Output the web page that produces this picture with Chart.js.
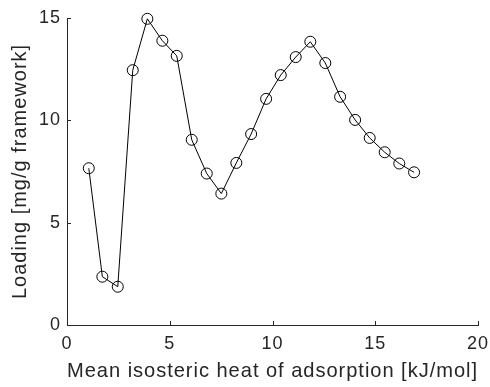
<!DOCTYPE html>
<html>
<head>
<meta charset="utf-8">
<script src="https://cdn.jsdelivr.net/npm/chart.js@4"></script>
<style>
html,body{margin:0;padding:0;background:#fff;}
canvas{display:block;}
</style>
</head>
<body>
<canvas id="c" width="490" height="387"></canvas>
<script>
const heatValues = [1.06, 1.72, 2.47, 3.20, 3.91, 4.64, 5.34, 6.07, 6.80, 7.51, 8.24, 8.96, 9.69, 10.40, 11.13, 11.84, 12.57, 13.29, 14.02, 14.73, 15.46, 16.17, 16.89];
const loadingValues = [7.66, 2.36, 1.87, 12.45, 14.96, 13.89, 13.15, 9.05, 7.40, 6.42, 7.92, 9.33, 11.05, 12.21, 13.09, 13.84, 12.80, 11.15, 10.02, 9.14, 8.44, 7.89, 7.46];
const xTicks = [0, 5, 10, 15, 20];
const yTicks = [0, 5, 10, 15];
const xTitle = 'Mean isosteric heat of adsorption [kJ/mol]';
const yTitle = 'Loading [mg/g framework]';

const points = heatValues.map((x, i) => ({x: x, y: loadingValues[i]}));
const axisColor = '#262626';
const fontFamily = '"Liberation Sans", Arial, sans-serif';

const spacing = {
  id: 'spacing',
  beforeLayout(chart) { chart.ctx.letterSpacing = '1px'; },
  beforeDraw(chart) { chart.ctx.letterSpacing = '1px'; }
};

const inwardTicks = {
  id: 'inwardTicks',
  afterDraw(chart) {
    const ctx = chart.ctx;
    const xs = chart.scales.x, ys = chart.scales.y;
    const area = chart.chartArea;
    ctx.save();
    ctx.strokeStyle = axisColor;
    ctx.lineWidth = 1;
    ctx.beginPath();
    xTicks.forEach(v => {
      const px = Math.round(xs.getPixelForValue(v)) + 0.5;
      ctx.moveTo(px, area.bottom);
      ctx.lineTo(px, area.bottom - 4);
    });
    yTicks.forEach(v => {
      const py = Math.round(ys.getPixelForValue(v)) + 0.5;
      ctx.moveTo(area.left, py);
      ctx.lineTo(area.left + 4, py);
    });
    ctx.stroke();
    ctx.restore();
  }
};

new Chart(document.getElementById('c'), {
  type: 'line',
  data: {
    datasets: [{
      data: points,
      borderColor: '#000',
      borderWidth: 1,
      pointRadius: 5.5,
      pointBorderWidth: 1,
      pointBorderColor: '#000',
      pointBackgroundColor: 'rgba(0,0,0,0)',
      fill: false,
      tension: 0,
      clip: false
    }]
  },
  options: {
    responsive: false,
    animation: false,
    devicePixelRatio: 1,
    layout: {padding: {top: 18, right: 12, left: 0, bottom: 0}},
    plugins: {legend: {display: false}, tooltip: {enabled: false}},
    scales: {
      x: {
        type: 'linear', min: 0, max: 20,
        afterBuildTicks(s) { s.ticks = xTicks.map(v => ({value: v})); },
        afterFit(s) { s.height = 62; s.paddingLeft = 0; s.paddingRight = 0; },
        grid: {display: true, drawOnChartArea: false, drawTicks: false, color: axisColor},
        border: {display: true, color: axisColor, width: 1},
        ticks: {color: axisColor, font: {family: fontFamily, size: 18}, padding: 8, maxRotation: 0},
        title: {display: true, text: xTitle, color: axisColor, font: {family: fontFamily, size: 21}, padding: {top: 0, bottom: 3}}
      },
      y: {
        type: 'linear', min: 0, max: 15,
        afterBuildTicks(s) { s.ticks = yTicks.map(v => ({value: v})); },
        afterFit(s) { s.width = 67; s.paddingTop = 0; s.paddingBottom = 0; },
        grid: {display: true, drawOnChartArea: false, drawTicks: false, color: axisColor},
        border: {display: true, color: axisColor, width: 1},
        ticks: {color: axisColor, font: {family: fontFamily, size: 18}, padding: 6},
        title: {display: true, text: yTitle, color: axisColor, font: {family: fontFamily, size: 20}, padding: {top: 8, bottom: 0}}
      }
    }
  },
  plugins: [spacing, inwardTicks]
});
</script>
</body>
</html>
